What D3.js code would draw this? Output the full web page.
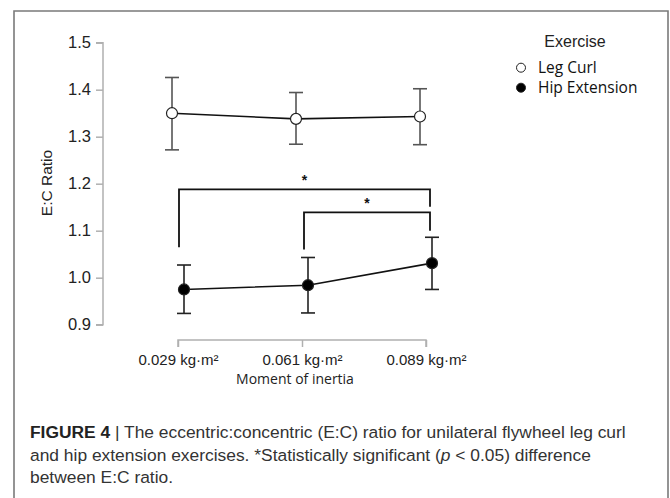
<!DOCTYPE html>
<html><head><meta charset="utf-8">
<script src="https://cdn.jsdelivr.net/npm/d3@7"></script>
<style>
body{margin:0;background:#fff;}
svg{display:block;}
</style></head>
<body>
<script>
// ---- data ----
const categories = ["0.029 kg·m²", "0.061 kg·m²", "0.089 kg·m²"];
const seriesNames = ["Leg Curl", "Hip Extension"];
const legCurlMean = [1.350, 1.338, 1.343];
const legCurlLow  = [1.272, 1.284, 1.283];
const legCurlHigh = [1.426, 1.394, 1.402];
const hipExtMean  = [0.975, 0.984, 1.031];
const hipExtLow   = [0.924, 0.925, 0.975];
const hipExtHigh  = [1.027, 1.043, 1.086];
const yTicks = [0.9, 1.0, 1.1, 1.2, 1.3, 1.4, 1.5];
// significance brackets: [fromIdx, toIdx, barY, leftEndY, rightEndY]
const brackets = [
  [0, 2, 1.188, 1.065, 1.151],
  [1, 2, 1.139, 1.060, 1.100]
];

const W = 670, H = 498;
const svg = d3.select("body").append("svg").attr("width", W).attr("height", H);

// frame
svg.append("path").attr("d", `M14,${H+2}V11H668V${H+2}`)
  .attr("fill","none").attr("stroke","#7a7a7a").attr("stroke-width",1.6);

const y = d3.scaleLinear().domain([0.9, 1.5]).range([324.7, 42.7]);
const x = d3.scalePoint().domain(categories).range([178, 426]);
const dodge = 6;

// y axis
const yAxis = d3.axisLeft(y).tickValues(yTicks).tickFormat(d3.format(".1f")).tickSize(7).tickPadding(5);
const gy = svg.append("g").attr("transform","translate(103,0)").call(yAxis);
gy.select(".domain").attr("stroke","#b0b0b0").attr("stroke-width",1.5).attr("d", `M-7,${y(1.5)}H0V${y(0.9)}H-7`);
gy.selectAll(".tick line").attr("stroke","#b0b0b0").attr("stroke-width",1.5);
gy.selectAll(".tick text").attr("font-family","'Liberation Sans', Arial, sans-serif").attr("font-size",16.5).attr("fill","#222");

svg.append("text").attr("transform","translate(52,183) rotate(-90)")
  .attr("text-anchor","middle").attr("font-family","'Liberation Sans', Arial, sans-serif")
  .attr("font-size",15.5).attr("fill","#222").text("E:C Ratio");

// x axis
const xAxis = d3.axisBottom(x).tickSize(7).tickPadding(7);
const gx = svg.append("g").attr("transform","translate(0,340)").call(xAxis);
gx.select(".domain").attr("stroke","#b0b0b0").attr("stroke-width",1.5).attr("d", `M${x(categories[0])},7V0H${x(categories[2])}V7`);
gx.selectAll(".tick line").attr("stroke","#b0b0b0").attr("stroke-width",1.5);
gx.selectAll(".tick text").attr("font-family","'Liberation Sans', Arial, sans-serif").attr("font-size",15).attr("fill","#222");

svg.append("text").attr("x",295).attr("y",384).attr("text-anchor","middle")
  .attr("font-family","'Open Sans', Lato, sans-serif").attr("font-size",14).attr("fill","#222").text("Moment of inertia");

// series
const series = [
  {name: seriesNames[0], mean: legCurlMean, lo: legCurlLow, hi: legCurlHigh, off: -dodge, fill: "#fff", ecol: "#555"},
  {name: seriesNames[1], mean: hipExtMean, lo: hipExtLow, hi: hipExtHigh, off: dodge, fill: "#000", ecol: "#222"}
];
series.forEach(s => {
  const px = i => x(categories[i]) + s.off;
  const g = svg.append("g");
  categories.forEach((c, i) => {
    g.append("line").attr("x1",px(i)).attr("x2",px(i)).attr("y1",y(s.lo[i])).attr("y2",y(s.hi[i])).attr("stroke",s.ecol).attr("stroke-width",1.6);
    [s.lo[i], s.hi[i]].forEach(v => g.append("line").attr("x1",px(i)-7).attr("x2",px(i)+7).attr("y1",y(v)).attr("y2",y(v)).attr("stroke",s.ecol).attr("stroke-width",1.6));
  });
  g.append("path").datum(s.mean).attr("fill","none").attr("stroke","#111").attr("stroke-width",1.6)
    .attr("d", d3.line().x((d,i)=>px(i)).y(d=>y(d)));
  g.selectAll("circle").data(s.mean).join("circle").attr("cx",(d,i)=>px(i)).attr("cy",d=>y(d))
    .attr("r",5.5).attr("fill",s.fill).attr("stroke","#222").attr("stroke-width",1.2);
});

// brackets
brackets.forEach(b => {
  const x0 = x(categories[b[0]]) + (b[0] === 0 ? 1 : 2);
  const x1 = x(categories[b[1]]) + 4;
  svg.append("path").attr("d", `M${x0},${y(b[3])}V${y(b[2])}H${x1}V${y(b[4])}`)
    .attr("fill","none").attr("stroke","#111").attr("stroke-width",1.8);
  svg.append("text").attr("x",(x0+x1)/2).attr("y",y(b[2])-4).attr("text-anchor","middle")
    .attr("font-family","'Liberation Sans', Arial, sans-serif").attr("font-size",14).attr("font-weight","bold").attr("fill","#111").text("*");
});

// legend
svg.append("text").attr("x",575).attr("y",47).attr("text-anchor","middle")
  .attr("font-family","'Liberation Sans', Arial, sans-serif").attr("font-size",16).attr("fill","#222").text("Exercise");
series.forEach((s, i) => {
  const ly = 67.7 + i*20;
  svg.append("circle").attr("cx",521).attr("cy",ly).attr("r",4.5).attr("fill",s.fill).attr("stroke","#222").attr("stroke-width",1);
  svg.append("text").attr("x",538).attr("y",ly+5.5).attr("font-family","'Open Sans', Lato, sans-serif")
    .attr("font-size",15.5).attr("fill","#111").text(s.name);
});

// caption
const cap = svg.append("g").attr("font-family","'Liberation Sans', Arial, sans-serif").attr("font-size",17.4).attr("fill","#333");
const t1 = cap.append("text").attr("x",30).attr("y",437.5);
t1.append("tspan").attr("font-weight","bold").attr("fill","#222").text("FIGURE 4");
t1.append("tspan").text(" | The eccentric:concentric (E:C) ratio for unilateral flywheel leg curl");
const t2 = cap.append("text").attr("x",30).attr("y",460.5);
t2.append("tspan").text("and hip extension exercises. *Statistically significant (");
t2.append("tspan").attr("font-style","italic").text("p");
t2.append("tspan").text(" < 0.05) difference");
cap.append("text").attr("x",30).attr("y",483).text("between E:C ratio.");
</script>
</body></html>
